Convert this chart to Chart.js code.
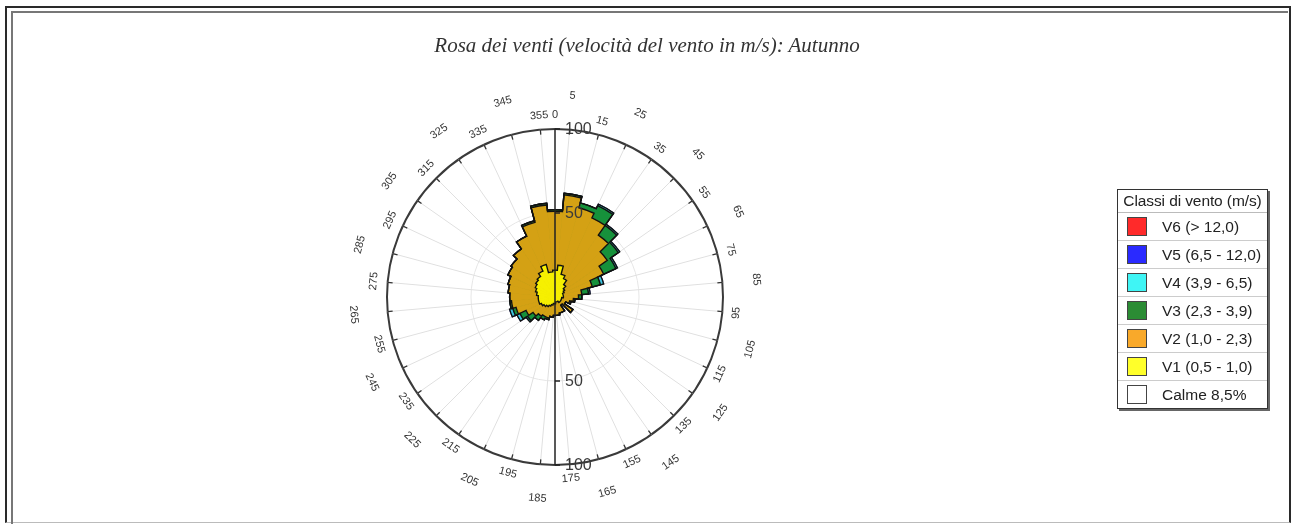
<!DOCTYPE html>
<html>
<head>
<meta charset="utf-8">
<script src="https://cdn.jsdelivr.net/npm/chart.js@4"></script>
<style>
  body { margin: 0; background: #fff; }
  #wrap { position: relative; width: 1301px; height: 524px; overflow: hidden; }
  #frameOuter { position: absolute; left: 5px; top: 6px; width: 1282px; height: 514px; border: 2px solid #2a2a2a; border-bottom: 1px solid #bbb; }
  #frameInner { position: absolute; left: 11px; top: 11px; width: 1275px; height: 530px; border-left: 2px solid #777; border-top: 2px solid #777; }
  #title { position: absolute; left: 0; top: 33px; width: 1294px; text-align: center;
           font: italic 21px "Liberation Serif", "DejaVu Serif", serif; color: #333; }
  canvas { position: absolute; left: 0; top: 0; }
  #legend { position: absolute; left: 1117px; top: 189px; width: 149px; border: 1px solid #333;
            box-shadow: 2px 2px 0 #666; background: #fff; font: 15.5px "Liberation Sans", Arial, sans-serif; color: #222; }
  #legend .head { height: 22px; line-height: 22px; text-align: center; border-bottom: 1px solid #bbb; white-space: nowrap; font-size: 15.5px; letter-spacing: -0.1px; }
  #legend .row { position: relative; height: 27px; line-height: 27px; border-bottom: 1px solid #ccc; padding-left: 44px; white-space: nowrap; }
  #legend .row:last-child { border-bottom: none; }
  #legend .sw { position: absolute; left: 9px; top: 4px; width: 18px; height: 17px; border: 1px solid #444; }
</style>
</head>
<body>
<div id="wrap">
  <div id="frameOuter"></div>
  <div id="frameInner"></div>
  <canvas id="rose" width="1301" height="524"></canvas>
  <div id="title">Rosa dei venti (velocità del vento in m/s): Autunno</div>
  <div id="legend"></div>
</div>
<script>
// settori di direzione (gradi, centro del settore)
const directions = ['0','10','20','30','40','50','60','70','80','90','100','110','120','130','140','150','160','170',
                    '180','190','200','210','220','230','240','250','260','270','280','290','300','310','320','330','340','350'];

// valori cumulati per classe (scala 0-100)
const upToV1 = [16,19,14,12,9,7,6,5,5,5,4,4,4,4,4,3,3,3,4,4,5,6,7,8,9,10,10,10,11,12,13,14,15,17,20,15];
const upToV2 = [51,61,55,52,45,38,32,23,16,14,11,9,7,13,6,10,10,11,11,12,13,13,14,16,19,24,26,27,28,29,31,32,35,40,46,55];
const upToV3 = [52,62,58,60,52,46,40,28,20,16,12,10,7,13,6,10,10,11,11,12,14,15,17,20,23,26,27,27,28,29,31,32,35,40,47,56];
const upToV4 = [52,62,58,61,53,47,41,30,21,16,12,10,7,13,6,10,10,11,11,12,14,15,17,21,25,28,27,27,28,29,31,32,35,40,47,56];
const upToV5 = upToV4.slice();
const upToV6 = upToV4.slice();

const classNames = ['V6 (> 12,0)', 'V5 (6,5 - 12,0)', 'V4 (3,9 - 6,5)', 'V3 (2,3 - 3,9)', 'V2 (1,0 - 2,3)', 'V1 (0,5 - 1,0)', 'Calme 8,5%'];
const legendColors = ['#ff2a2a', '#2a2aff', '#3ff5f5', '#2b8c34', '#f9a92a', '#ffff2a', '#ffffff'];

const axisTicks = [50, 100];

// legend (html)
const legendEl = document.getElementById('legend');
legendEl.innerHTML = '<div class="head">Classi di vento (m/s)</div>' +
  classNames.map((n, i) => '<div class="row"><span class="sw" style="background:' + legendColors[i] + '"></span>' + n + '</div>').join('');

// outline, axis and rotated direction labels
const roseOverlay = {
  id: 'roseOverlay',
  afterDatasetsDraw(chart) {
    const ctx = chart.ctx;
    const scale = chart.scales.r;
    const cx = scale.xCenter, cy = scale.yCenter, R = scale.drawingArea;
    ctx.save();

    // black outline of every cumulated class
    ctx.strokeStyle = '#111';
    ctx.lineWidth = 1.4;
    for (let d = 3; d >= 0; d--) {
      const arcs = chart.getDatasetMeta(d).data;
      ctx.beginPath();
      arcs.forEach(a => ctx.arc(cx, cy, a.outerRadius, a.startAngle, a.endAngle));
      ctx.closePath();
      ctx.stroke();
    }

    // vertical axis
    ctx.strokeStyle = '#222';
    ctx.lineWidth = 1.5;
    ctx.beginPath();
    ctx.moveTo(cx, cy - R);
    ctx.lineTo(cx, cy + R);
    ctx.stroke();
    ctx.font = '16px "Liberation Sans", Arial, sans-serif';
    ctx.fillStyle = '#3a3a3a';
    ctx.textAlign = 'left';
    ctx.textBaseline = 'middle';
    axisTicks.forEach(v => {
      const dist = scale.getDistanceFromCenterForValue(v);
      [-1, 1].forEach(s => {
        ctx.beginPath();
        ctx.moveTo(cx, cy + s * dist);
        ctx.lineTo(cx + 5, cy + s * dist);
        ctx.stroke();
        ctx.fillText(String(v), cx + 10, cy + s * dist + 1);
      });
    });

    // ticks on the outer circle + labels
    ctx.lineWidth = 1.3;
    ctx.strokeStyle = '#333';
    ctx.font = '11px "Liberation Sans", Arial, sans-serif';
    ctx.fillStyle = '#333';
    ctx.textAlign = 'center';
    const n = directions.length;
    for (let i = 0; i < n; i++) {
      const p1 = scale.getPointPosition(i, R);
      const p2 = scale.getPointPosition(i, R - 5);
      ctx.beginPath();
      ctx.moveTo(p1.x, p1.y);
      ctx.lineTo(p2.x, p2.y);
      ctx.stroke();
      const deg = (i * 360 / n + scale.options.startAngle + 360) % 360;
      const lp = scale.getPointPosition(i, R + (i % 2 === 1 ? 34 : 14));
      drawRotated(ctx, String(deg), lp.x, lp.y, deg);
    }
    // label 0 at the north
    const z = scale.getPointPosition(0, R + 14, -scale.options.startAngle * Math.PI / 180);
    drawRotated(ctx, '0', z.x, z.y, 0);
    ctx.restore();
  }
};

function drawRotated(ctx, text, x, y, deg) {
  const rot = (deg > 90 && deg < 270) ? deg - 180 : deg;
  ctx.save();
  ctx.translate(x, y);
  ctx.rotate(rot * Math.PI / 180);
  ctx.fillText(text, 0, 0);
  ctx.restore();
}

const roseFill = ['#f6f000', '#d4a114', '#16913b', '#3cc4e2', '#2a2aff', '#ff2a2a'];
const series = [upToV1, upToV2, upToV3, upToV4, upToV5, upToV6];

new Chart(document.getElementById('rose'), {
  type: 'polarArea',
  data: {
    labels: directions,
    datasets: series.map((vals, i) => ({
      label: 'V' + (i + 1),
      data: vals,
      backgroundColor: roseFill[i],
      borderColor: roseFill[i],
      borderWidth: 0.8
    }))
  },
  options: {
    responsive: false,
    animation: false,
    devicePixelRatio: 1,
    layout: { padding: { left: 387, right: 578, top: 129, bottom: 59 } },
    plugins: { legend: { display: false }, tooltip: { enabled: false } },
    scales: {
      r: {
        min: 0,
        max: 100,
        startAngle: -5,
        ticks: { display: false, stepSize: 50 },
        pointLabels: { display: false },
        angleLines: { display: true, color: '#e0e0e0', lineWidth: 1 },
        grid: {
          circular: true,
          color: c => c.tick && c.tick.value === 100 ? '#3a3a3a' : '#e6e6e6',
          lineWidth: c => c.tick && c.tick.value === 100 ? 2 : 1
        }
      }
    }
  },
  plugins: [roseOverlay]
});
</script>
</body>
</html>
